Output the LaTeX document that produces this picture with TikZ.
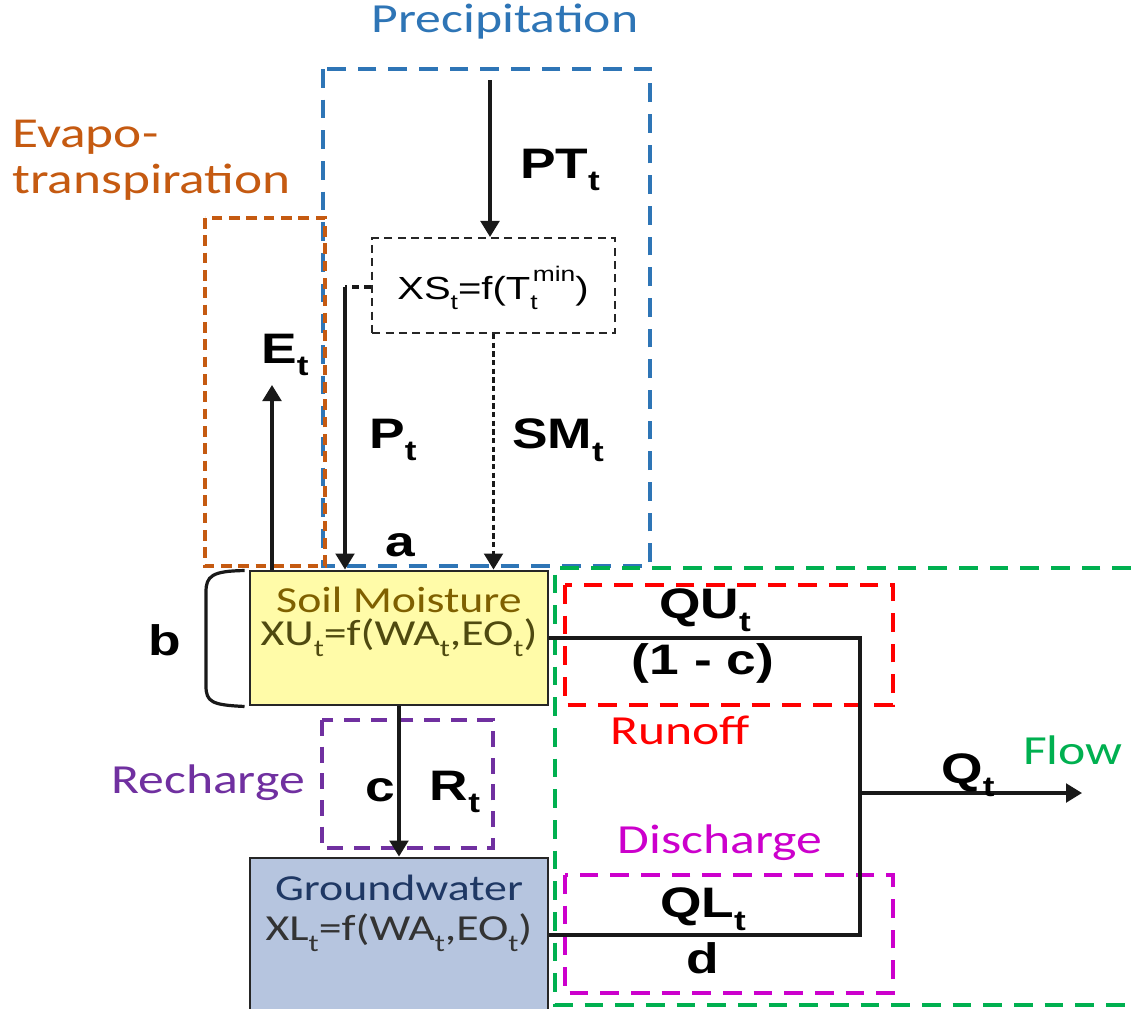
\documentclass[tikz,border=0pt]{standalone}
\usepackage{fontspec}
\setmainfont{Carlito}
\newfontfamily\arialf{Liberation Sans}
\usetikzlibrary{arrows.meta,calc}
\definecolor{cblue}{HTML}{2E75B6}
\definecolor{corange}{HTML}{C55A11}
\definecolor{cred}{HTML}{FF0000}
\definecolor{cmag}{HTML}{CC00CC}
\definecolor{cpurple}{HTML}{7030A0}
\definecolor{cgreen}{HTML}{00B050}
\definecolor{soilfill}{HTML}{FFFBA8}
\definecolor{gwfill}{HTML}{B6C5DF}
\definecolor{soiltxt}{HTML}{7F6000}
\definecolor{soilform}{HTML}{4F4A10}
\definecolor{gwtxt}{HTML}{1F3864}
\newcommand{\wx}[1]{\scalebox{1.25}[1]{#1}}
\newcommand{\tsub}[1]{\raisebox{-0.3em}{\scalebox{0.66}{#1}}}
\newcommand{\tsup}[1]{\raisebox{0.55em}{\scalebox{0.66}{#1}}}
\begin{document}
\begin{tikzpicture}[x=0.75pt,y=-0.75pt,
  lbl/.style={font=\fontsize{31}{36}\selectfont, inner sep=0},
  bl/.style={font=\arialf\bfseries\fontsize{32}{36}\selectfont, inner sep=0},
  boxtxt/.style={font=\fontsize{27.5}{30}\selectfont, inner sep=0},
  conn/.style={line width=2.4pt, draw=black!90},
  arr/.style={conn, -{Triangle[length=12pt,width=14pt]}},
  grp/.style={line width=3pt, dash pattern=on 14pt off 9pt},
  store/.style={draw=black!85, line width=2.2pt, minimum width=223.5pt, inner sep=0},
]
\useasboundingbox (0,0) rectangle (1131,1008);
\fill[white] (0,0) rectangle (1131,1008);

% group regions
\draw[grp, cblue] (323,69) rectangle (650,566);
\draw[grp, corange, dash pattern=on 8pt off 5pt] (205,218) rectangle (325,566);
\draw[grp, cgreen] (1131,568) -- (555,568) -- (555,1005) -- (1131,1005);
\draw[grp, cred] (565,585) rectangle (893,705);
\draw[grp, cmag] (565,875) rectangle (893,993);
\draw[grp, cpurple, dash pattern=on 12pt off 8pt] (322,720) rectangle (493,848);

% boxes
\node[store, fill=soilfill, minimum height=100.5pt] (soil) at (399,638) {};
\node[store, fill=gwfill, minimum height=115.5pt] (gw) at (399,935) {};
\node[draw=black!85, line width=1.8pt, dash pattern=on 6pt off 4pt,
      minimum width=182pt, minimum height=71pt, inner sep=0] (xs) at (493.5,285.5) {};

% texts in boxes
\node[boxtxt, text=soiltxt] (soilt) at (399,600) {\wx{Soil Moisture}};
\node[boxtxt, text=soilform] (soilf) at (399,638) {\wx{XU\tsub{t}=f(WA\tsub{t},EO\tsub{t})}};
\node[boxtxt, text=gwtxt] (gwt) at (399,888) {\wx{Groundwater}};
\node[boxtxt, text=black!80] (gwf) at (399,933) {\wx{XL\tsub{t}=f(WA\tsub{t},EO\tsub{t})}};
\node[font=\arialf\fontsize{24}{28}\selectfont, inner sep=0] (xst) at (493,288) {\wx{XS\tsub{t}=f(T\tsub{t}\hspace{-0.12em}\tsup{min})}};

% group labels
\node[lbl, text=cblue] (precip) at (505,22) {\wx{Precipitation}};
\node[lbl, text=corange, anchor=west, align=left, font=\fontsize{32}{36}\selectfont] (evap) at (12,161) {\wx{\begin{tabular}{@{}l@{}}Evapo-\\[-2pt]transpiration\end{tabular}}};
\node[lbl, text=cred] (runoff) at (680,730) {\wx{Runoff}};
\node[lbl, text=cpurple] (rech) at (208,783) {\wx{Recharge}};
\node[lbl, text=cmag] (disch) at (720,843) {\wx{Discharge}};
\node[lbl, text=cgreen] (flow) at (1073,750) {\wx{Flow}};

% coordinates
\coordinate (ptop) at (490,80);
\coordinate (pc) at (345,287);
\coordinate (etop) at (272,385);
\coordinate (j) at (860,793);
\coordinate (qend) at (1082,793);

% connectors
\draw[arr] (ptop) -- (ptop |- xs.north);
\draw[conn, dash pattern=on 5pt off 4pt] (pc -| xs.west) -- (pc);
\draw[arr] (pc) -- (pc |- soil.north);
\draw[arr, dash pattern=on 4pt off 2.5pt] (xs.south) -- (xs.south |- soil.north);
\draw[arr] (etop |- soil.north) -- (etop);
\draw[arr] (soil.south) -- (gw.north);
\draw[conn] (soil.east) -| (j) |- (gw.east);
\draw[arr] (j) -- (qend);

% brace
\draw[line width=2.4pt, black!90] ($(soil.north west)+(-4,1)$) .. controls (212,571) and (206,576) .. (206,592)
  -- (206,686) .. controls (206,702) and (212,705) .. ($(soil.south west)+(-4,0)$);

% bold labels
\node[bl] (lpt) at (560,170) {\wx{PT\tsub{t}}};
\node[bl] (let) at (285,355) {\wx{E\tsub{t}}};
\node[bl] (lp) at (393,440) {\wx{P\tsub{t}}};
\node[bl] (lsm) at (558,440) {\wx{SM\tsub{t}}};
\node[bl] (la) at (400,545) {\wx{a}};
\node[bl] (lb) at (165,640) {\wx{b}};
\node[bl] (lqu) at (705,610) {\wx{QU\tsub{t}}};
\node[bl] (l1c) at (703,663) {\wx{(1 - c)}};
\node[bl] (lq) at (968,775) {\wx{Q\tsub{t}}};
\node[bl] (lc) at (380,790) {\wx{c}};
\node[bl] (lr) at (455,792) {\wx{R\tsub{t}}};
\node[bl] (lql) at (703,909) {\wx{QL\tsub{t}}};
\node[bl] (ld) at (703,958) {\wx{d}};
\end{tikzpicture}
\end{document}
